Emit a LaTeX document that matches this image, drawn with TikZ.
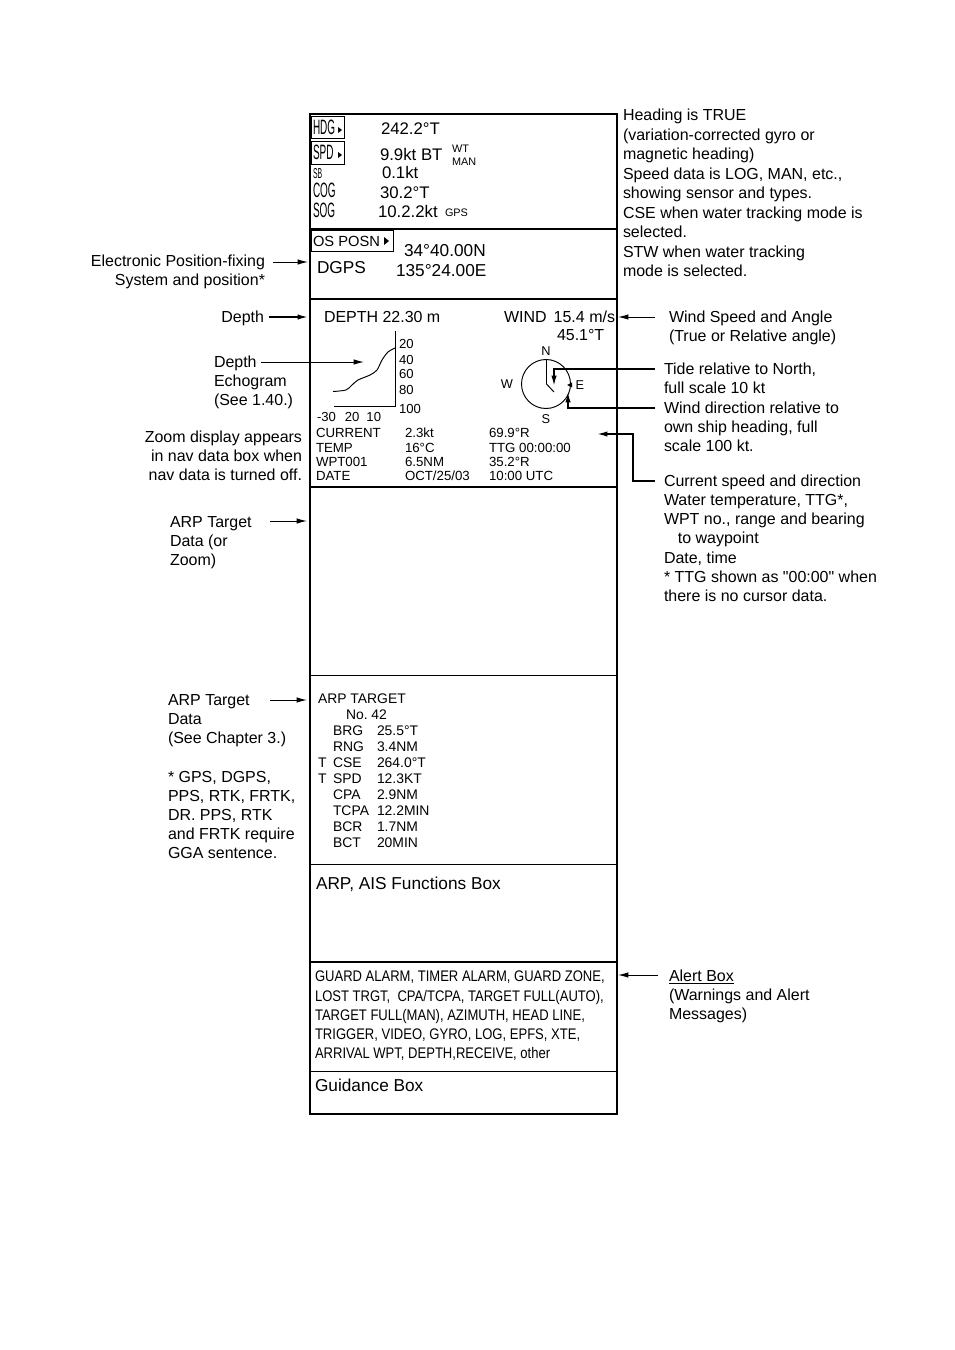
\documentclass[tikz,border=0pt]{standalone}
\usepackage{fontspec}
\setmainfont{Liberation Sans}
\newfontfamily\narrowfont{Liberation Sans}[FakeStretch=0.48]
\newfontfamily\condfont{Liberation Sans}[FakeStretch=0.85]
\newfontfamily\straightfont{Liberation Sans}
\usepackage{tikz}
\usetikzlibrary{positioning, arrows.meta, calc}
\frenchspacing

\begin{document}
\begin{tikzpicture}[
  x=0.22mm, y=-0.22mm,
  every node/.style={inner sep=0pt, outer sep=0pt, anchor=base west},
  note/.style={font=\fontsize{10}{12}\selectfont, align=left},
  noteR/.style={note, align=right, anchor=base east},
  reading/.style={font=\fontsize{10.5}{12}\selectfont},
  posread/.style={font=\fontsize{10.8}{12.4}\selectfont},
  tag/.style={font=\fontsize{13}{14}\narrowfont},
  small/.style={font=\fontsize{6.8}{7.5}\selectfont},
  navtxt/.style={font=\fontsize{8.3}{9}\selectfont},
  arptxt/.style={font=\fontsize{8.7}{10}\selectfont},
  scaletxt/.style={font=\fontsize{8.2}{9}\selectfont},
  dialtxt/.style={font=\fontsize{8}{9}\selectfont, anchor=center},
  boxtitle/.style={font=\fontsize{10.8}{12}\selectfont},
  alerttxt/.style={font=\fontsize{9.6}{12}\condfont, align=left},
  frame/.style={line width=1pt},
  divider/.style={line width=0.6pt},
  pointer/.style={-{Latex[length=2.3mm, width=1.2mm]}, line width=0.6pt},
  heavypointer/.style={pointer, line width=1pt}
]
\useasboundingbox (0,0) rectangle (954,1350);

% Display frame and its boxes
\draw[frame] (310,114) rectangle (617,1114);
\draw[frame] (310,229) -- (617,229);
\draw[frame] (310,299) -- (617,299);
\draw[frame] (310,487) -- (617,487);
\draw[divider] (310,675) -- (617,675);
\draw[divider] (310,864) -- (617,864);
\draw[frame] (310,962) -- (617,962);
\draw[divider] (310,1071) -- (617,1071);

% Own ship data
\draw[divider] (311,116) rectangle (344,138);
\draw[divider] (311,141) rectangle (344,164);
\node[tag] (hdg) at (313,134.5) {HDG};
\fill (338,127) -- (342,130) -- (338,133) -- cycle;
\node[tag] (spd) at (313,159.5) {SPD};
\fill (338,152) -- (342,155) -- (338,158) -- cycle;
\node[tag, font=\fontsize{9}{10}\narrowfont] (sb) at (313,178) {SB};
\node[tag] (cog) at (313,197.5) {COG};
\node[tag] (sog) at (313,217.5) {SOG};
\node[reading] (hdgval) at (381,134) {242.2°T};
\node[reading] (spdval) at (380,160) {9.9kt BT};
\node[small] (spdwt) at (452,152) {WT};
\node[small] (spdman) at (452,165) {MAN};
\node[reading] (sbval) at (382,178) {0.1kt};
\node[reading] (cogval) at (380,198) {30.2°T};
\node[reading] (sogval) at (378,217) {10.2.2kt};
\node[small] (sogsrc) at (445,216) {GPS};

% Own ship position
\draw[divider] (311,230) rectangle (393,251);
\node[font=\fontsize{9.2}{10}\selectfont] (posn) at (313,246) {OS POSN};
\fill (384,237) -- (389,241) -- (384,245) -- cycle;
\node[posread] (fixsys) at (317,273) {DGPS};
\node[posread] (lat) at (404,256) {34°40.00N};
\node[posread] (lon) at (396,276) {135°24.00E};

% Depth and wind
\node[note] (depthval) at (324,322) {DEPTH 22.30 m};
\node[note, anchor=base east] (windval) at (615,322) {WIND\hspace{4.4pt}15.4 m/s};
\node[note] (windang) at (557,340) {45.1°T};

% Echogram
\draw[divider] (334,406) -| (395,331);
\draw[divider] plot[smooth] coordinates {(333,391.5) (346,390) (352,385) (358,380)
  (370,375) (377,370) (382,360) (388,352) (395,348)};
\foreach \d/\y in {20/348, 40/364, 60/378, 80/394, 100/413}
  \node[scaletxt] (echo-\d) at (399,\y) {\d};
\node[scaletxt] (echoaxis) at (317,421) {-30\hspace{5.6pt}20\hspace{4.4pt}10};

% Compass
\draw[divider] (546,384) circle[radius=24.5];
\node[dialtxt] (north) at (546,351) {N};
\node[dialtxt] (south) at (546,419) {S};
\node[dialtxt] (west) at (507,384) {W};
\node[dialtxt] (east) at (580,385) {E};
\draw[divider] (546.5,360) -- (546.5,384) -- (554,392);
\fill (567,385) -- (572,382.5) -- (572,387.5) -- cycle;

% Nav data
\foreach \y/\a/\b/\c [count=\r] in {437/CURRENT/2.3kt/69.9°R, 452/TEMP/16°C/TTG 00:00:00,
    466/WPT001/6.5NM/35.2°R, 480/DATE/{OCT/25/03}/10:00 UTC} {
  \node[navtxt] (nav-a-\r) at (316,\y) {\a};
  \node[navtxt] (nav-b-\r) at (405,\y) {\b};
  \node[navtxt] (nav-c-\r) at (489,\y) {\c};
}

% ARP target data
\node[arptxt] (arphead) at (318,703) {ARP TARGET};
\node[arptxt] (arpno) at (346,719) {No. 42};
\foreach \k/\v [count=\r] in {BRG/25.5°T, RNG/3.4NM, CSE/264.0°T, SPD/12.3KT,
    CPA/2.9NM, TCPA/12.2MIN, BCR/1.7NM, BCT/20MIN} {
  \node[arptxt] (arpkey-\r) at (333,{719+16*\r}) {\k};
  \node[arptxt] (arpval-\r) at (377,{719+16*\r}) {\v};
}
\node[arptxt] (cse-true) at (318,767) {T};
\node[arptxt] (spd-true) at (318,783) {T};

% Functions, alert and guidance boxes (multi-line nodes sit on their last line)
\node[boxtitle] (funcbox) at (316,889) {ARP, AIS Functions Box};
\node[alerttxt] (alerts) at (315,1058.5) {GUARD ALARM, TIMER ALARM, GUARD ZONE,\\
  LOST TRGT,\ \ CPA/TCPA, TARGET FULL(AUTO),\\
  TARGET FULL(MAN), AZIMUTH, HEAD LINE,\\
  TRIGGER, VIDEO, GYRO, LOG, EPFS, XTE,\\
  ARRIVAL WPT, DEPTH,RECEIVE, other};
\node[boxtitle] (guidebox) at (315,1091) {Guidance Box};

% Notes on the left
\node[noteR] (epf) at (265,285.2) {Electronic Position-fixing\\System and position*};
\node[noteR] (depthlbl) at (264,322) {Depth};
\node[note] (echolbl) at (214,405.5) {Depth\\Echogram\\(See 1.40.)};
\node[noteR] (zoomnote) at (302,480.5) {Zoom display appears\\in nav data box when\\nav data is turned off.};
\node[note] (arpzoom) at (170,565.5) {ARP Target\\Data (or\\Zoom)};
\node[note] (arpdata) at (168,858.9) {ARP Target\\Data\\(See Chapter 3.)\\[12pt]
  * GPS, DGPS,\\PPS, RTK, FRTK,\\DR. PPS, RTK\\and FRTK require\\GGA sentence.};

% Notes on the right
\node[note, font=\fontsize{10}{12.2}\selectfont] (headnote) at (623,276.5) {Heading is TRUE\\(variation-corrected gyro or\\magnetic heading)\\
  Speed data is LOG, MAN, etc.,\\showing sensor and types.\\CSE when water tracking mode is\\
  selected.\\STW when water tracking\\mode is selected.};
\node[note] (windlbl) at (669,341.2) {Wind Speed and Angle\\(True or Relative angle)};
\node[note] (tidelbl) at (664,393.2) {Tide relative to North,\\full scale 10 kt};
\node[note] (winddirlbl) at (664,451.5) {Wind direction relative to\\own ship heading, full\\scale 100 kt.};
\node[note] (curlbl) at (664,601.4) {Current speed and direction\\Water temperature, TTG*,\\
  WPT no., range and bearing\\\hspace*{8.7pt}to waypoint\\Date, time\\
  {\straightfont * TTG shown as "00:00" when}\\there is no cursor data.};
\node[note] (alertlbl) at (669,1019.5) {\underline{Alert Box}\\(Warnings and Alert\\Messages)};

% Pointers from the left
\coordinate (posn-in) at (308,262);
\coordinate (depth-in) at (308,317);
\coordinate (echo-tip) at (364,362);
\coordinate (arpzoom-in) at (307,521);
\coordinate (arpdata-in) at (307,700);
\draw[pointer] ($(epf.east |- posn-in)+(8,0)$) -- (posn-in);
\draw[heavypointer] ($(depthlbl.east |- depth-in)+(5,0)$) -- (depth-in);
\draw[pointer] ($(echolbl.west |- echo-tip)+(47,0)$) -- (echo-tip);
\draw[pointer] ($(arpzoom.west |- arpzoom-in)+(100,0)$) -- (arpzoom-in);
\draw[pointer] ($(arpdata.west |- arpdata-in)+(102,0)$) -- (arpdata-in);

% Pointers from the right
\coordinate (wind-tip) at (618,317);
\coordinate (tide-bend) at (554,369);
\coordinate (tide-tip) at (554,386);
\coordinate (winddir-bend) at (568,408);
\coordinate (winddir-tip) at (568,392);
\coordinate (cur-bend) at (633,481);
\coordinate (cur-tip) at (597,434);
\coordinate (alert-tip) at (618,975);
\draw[pointer] ($(windlbl.west |- wind-tip)+(-14,0)$) -- (wind-tip);
\draw[heavypointer] ($(tidelbl.west |- tide-bend)+(-9,0)$) -- (tide-bend) -- (tide-tip);
\draw[heavypointer] ($(winddirlbl.west |- winddir-bend)+(-9,0)$) -- (winddir-bend) -- (winddir-tip);
\draw[heavypointer] ($(curlbl.west |- cur-bend)+(-9,0)$) -- (cur-bend) |- (cur-tip);
\draw[pointer] ($(alertlbl.west |- alert-tip)+(-11,0)$) -- (alert-tip);
\end{tikzpicture}
\end{document}
